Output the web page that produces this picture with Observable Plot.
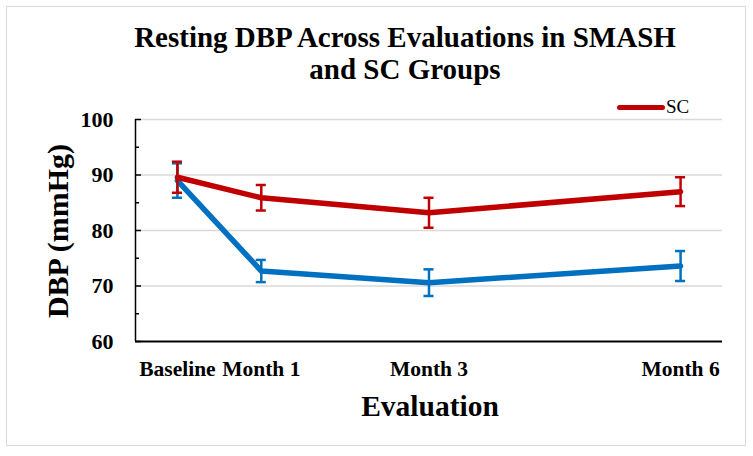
<!DOCTYPE html>
<html>
<head>
<meta charset="utf-8">
<script src="https://cdn.jsdelivr.net/npm/d3@7"></script>
<script src="https://cdn.jsdelivr.net/npm/@observablehq/plot@0.6"></script>
<style>
  html, body { margin: 0; padding: 0; background: #fff; }
  #wrap { position: relative; width: 753px; height: 456px; font-family: "Liberation Serif", serif; }
  #border { position: absolute; left: 6px; top: 6px; width: 740px; height: 440px; border: 1.5px solid #d9d9d9; box-sizing: border-box; }
  #title { position: absolute; left: 0; top: 21px; width: 810px; text-align: center; font-size: 29px; font-weight: bold; line-height: 32px; color: #000; }
  #ylab { position: absolute; left: 58px; top: 231px; transform: translate(-50%, -50%) rotate(-90deg); font-size: 30px; font-weight: bold; white-space: nowrap; }
  #xlab { position: absolute; left: 430px; top: 406px; transform: translate(-50%, -50%); font-size: 29.5px; font-weight: bold; white-space: nowrap; }
  #legend { position: absolute; left: 617px; top: 96px; height: 22px; display: flex; align-items: center; }
  #legend .sw { width: 48px; height: 5px; border-radius: 3px; background: #C00000; }
  #legend .lb { font-size: 19px; margin-left: 1px; }
  #chart { position: absolute; left: 0; top: 0; }
</style>
</head>
<body>
<div id="wrap">
  <div id="border"></div>
  <div id="chart"></div>
  <div id="title">Resting DBP Across Evaluations in SMASH<br>and SC Groups</div>
  <div id="ylab">DBP (mmHg)</div>
  <div id="xlab">Evaluation</div>
  <div id="legend"><div class="sw"></div><div class="lb">SC</div></div>
</div>
<script>
// Data
const months = [0, 1, 3, 6];
const monthLabels = ["Baseline", "Month 1", "Month 3", "Month 6"];
const smashMean = [89.0, 72.7, 70.6, 73.6];
const smashErr  = [3.1, 2.0, 2.4, 2.7];
const scMean    = [89.6, 85.9, 83.2, 87.0];
const scErr     = [2.8, 2.3, 2.7, 2.6];
const yTicks = [60, 70, 80, 90, 100];
const yMinor = [65, 75, 85, 95];
const gridTicks = [70, 80, 90, 100];
const xDomain = [-0.5, 6.5];
const yDomain = [60, 100];

const colors = { SMASH: "#0070C0", SC: "#C00000" };

function rows(group, means, errs) {
  return months.map((m, i) => ({ group, x: m, y: means[i], lo: means[i] - errs[i], hi: means[i] + errs[i] }));
}
const smash = rows("SMASH", smashMean, smashErr);
const sc = rows("SC", scMean, scErr);

const capHalf = 0.06;

function seriesMarks(data, color) {
  return [
    Plot.ruleX(data, { x: "x", y1: "lo", y2: "hi", stroke: color, strokeWidth: 2.5 }),
    Plot.ruleY(data, { y: "hi", x1: d => d.x - capHalf, x2: d => d.x + capHalf, stroke: color, strokeWidth: 2.5 }),
    Plot.ruleY(data, { y: "lo", x1: d => d.x - capHalf, x2: d => d.x + capHalf, stroke: color, strokeWidth: 2.5 }),
    Plot.line(data, { x: "x", y: "y", stroke: color, strokeWidth: 5.5, strokeLinejoin: "round", strokeLinecap: "round" })
  ];
}

const chart = Plot.plot({
  width: 753,
  height: 456,
  marginLeft: 135,
  marginRight: 31,
  marginTop: 119,
  marginBottom: 115,
  style: { fontFamily: "Liberation Serif", fontWeight: "bold", color: "#000", background: "transparent" },
  x: { domain: xDomain, label: null },
  y: { domain: yDomain, label: null },
  marks: [
    Plot.gridY(gridTicks, { stroke: "#d9d9d9", strokeOpacity: 1, strokeWidth: 1.5 }),
    Plot.axisY(yTicks, { tickSize: 0, tickPadding: 22, fontSize: 22, label: null }),
    Plot.axisY(yTicks, { tickSize: 6, dx: 6, text: null, label: null, stroke: "#000", strokeWidth: 1.5 }),
    Plot.axisY(yMinor, { tickSize: 4, dx: 4, text: null, label: null, stroke: "#000", strokeWidth: 1.5 }),
    Plot.axisX(months, { tickSize: 0, tickPadding: 19, fontSize: 21.5, label: null, tickFormat: (d) => monthLabels[months.indexOf(d)] }),
    Plot.ruleX([xDomain[0]], { stroke: "#000", strokeWidth: 1.5 }),
    Plot.ruleY([yDomain[0]], { stroke: "#000", strokeWidth: 2 }),
    ...seriesMarks(smash, colors.SMASH),
    ...seriesMarks(sc, colors.SC)
  ]
});
document.getElementById("chart").appendChild(chart);
</script>
</body>
</html>
